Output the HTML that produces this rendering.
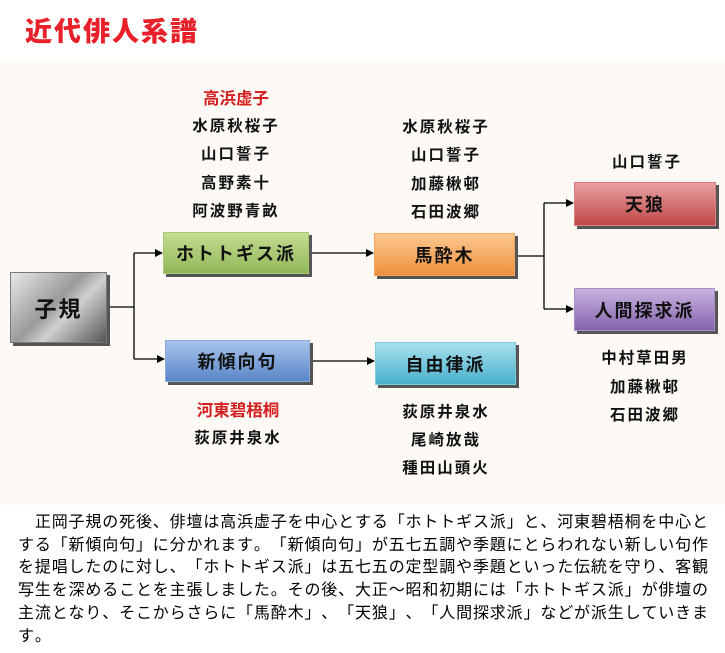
<!DOCTYPE html>
<html><head><meta charset="utf-8"><style>
body{margin:0;width:725px;height:653px;background:#fff;position:relative;overflow:hidden;font-family:"Liberation Sans","Noto Sans CJK JP",sans-serif;text-spacing-trim:space-all;font-kerning:none;}
.t{position:absolute;left:25px;top:10px;font-size:27px;font-weight:900;color:#e8202a;letter-spacing:2px;}
.panel{position:absolute;left:0;top:60px;width:725px;height:445px;background:#fdfaf6;}
.b{position:absolute;box-sizing:border-box;display:flex;align-items:center;justify-content:center;font-size:18px;font-weight:bold;color:#111;box-shadow:3px 3px 0 #555;letter-spacing:2px;}
.n{position:absolute;font-size:15.5px;font-weight:bold;color:#111;text-align:center;width:140px;letter-spacing:2px;}
.r{color:#d42020;letter-spacing:0;font-size:16.5px;}
.p{position:absolute;left:18px;top:512px;font-size:16px;line-height:22.7px;letter-spacing:0.85px;white-space:nowrap;color:#000;text-spacing-trim:space-all;}
</style></head><body>
<div class="t">近代俳人系譜</div>
<div class="panel"></div>
<svg style="position:absolute;left:0;top:0" width="725" height="653">
<defs><marker id="a" markerWidth="8" markerHeight="8" refX="7" refY="4" orient="auto" markerUnits="userSpaceOnUse"><path d="M0,0 L8,4 L0,8z" fill="#000"/></marker></defs>
<g stroke="#000" stroke-width="1.3" fill="none">
<path d="M107,307 H134 M134,253 V359"/>
<path d="M134,253 H162" marker-end="url(#a)"/>
<path d="M134,359 H164" marker-end="url(#a)"/>
<path d="M309,253 H373" marker-end="url(#a)"/>
<path d="M310,361 H374" marker-end="url(#a)"/>
<path d="M515,256 H544 M544,203 V309"/>
<path d="M544,203 H573" marker-end="url(#a)"/>
<path d="M544,309 H573" marker-end="url(#a)"/>
</g></svg>
<div class="b" style="left:10px;top:272px;width:97px;height:71px;background:linear-gradient(135deg,#e8e8e8,#9a9a9a 45%,#d0d0d0 60%,#555);border:1px solid #777;font-size:22px">子規</div>
<div class="b" style="left:163px;top:232px;width:146px;height:42px;background:linear-gradient(#c4dc90,#92b85a);border:1px solid #a8c878">ホトトギス派</div>
<div class="b" style="left:165px;top:340px;width:145px;height:42px;background:linear-gradient(#a8c4ec,#5a86c8);border:1px solid #8aaada">新傾向句</div>
<div class="b" style="left:374px;top:233px;width:141px;height:43px;background:linear-gradient(#fcc890,#f0903c);border:1px solid #f0a860">馬酔木</div>
<div class="b" style="left:375px;top:342px;width:141px;height:43px;background:linear-gradient(#a8e0ec,#48b0cc);border:1px solid #80c8dc">自由律派</div>
<div class="b" style="left:574px;top:182px;width:142px;height:44px;background:linear-gradient(#e8a0a0,#c04848);border:1px solid #d88080">天狼</div>
<div class="b" style="left:574px;top:288px;width:141px;height:43px;background:linear-gradient(#c8b4e0,#8462ac);border:1px solid #a890c8">人間探求派</div>
<div class="n r" style="left:166px;top:85px">高浜虚子</div>
<div class="n" style="left:166px;top:114px">水原秋桜子</div>
<div class="n" style="left:166px;top:142px">山口誓子</div>
<div class="n" style="left:166px;top:171px">高野素十</div>
<div class="n" style="left:166px;top:199px">阿波野青畝</div>
<div class="n" style="left:376px;top:115px">水原秋桜子</div>
<div class="n" style="left:376px;top:143px">山口誓子</div>
<div class="n" style="left:376px;top:172px">加藤楸邨</div>
<div class="n" style="left:376px;top:200px">石田波郷</div>
<div class="n" style="left:577px;top:150px">山口誓子</div>
<div class="n" style="left:575px;top:346px">中村草田男</div>
<div class="n" style="left:575px;top:375px">加藤楸邨</div>
<div class="n" style="left:575px;top:403px">石田波郷</div>
<div class="n r" style="left:168px;top:397px">河東碧梧桐</div>
<div class="n" style="left:168px;top:426px">荻原井泉水</div>
<div class="n" style="left:376px;top:400px">荻原井泉水</div>
<div class="n" style="left:376px;top:428px">尾崎放哉</div>
<div class="n" style="left:376px;top:456px">種田山頭火</div>
<div class="p">　正岡子規の死後、俳壇は高浜虚子を中心とする「ホトトギス派」と、河東碧梧桐を中心と<br>する「新傾向句」に分かれます。「新傾向句」が五七五調や季題にとらわれない新しい句作<br>を提唱したのに対し、「ホトトギス派」は五七五の定型調や季題といった伝統を守り、客観<br>写生を深めることを主張しました。その後、大正～昭和初期には「ホトトギス派」が俳壇の<br>主流となり、そこからさらに「馬酔木」、「天狼」、「人間探求派」などが派生していきま<br>す。</div>
</body></html>
